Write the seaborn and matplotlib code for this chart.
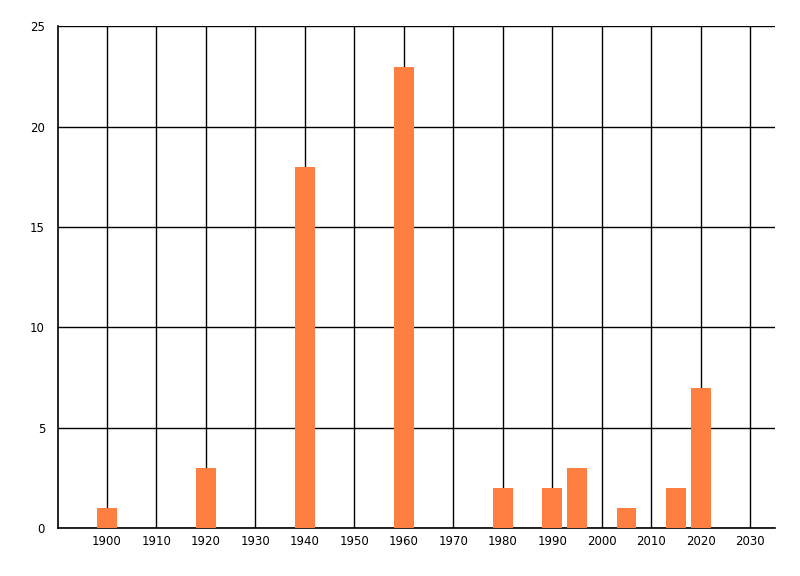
import matplotlib
matplotlib.use("Agg")
import matplotlib.pyplot as plt
import seaborn as sns

# data
years = [1900, 1920, 1940, 1960, 1980, 1990, 1995, 2005, 2015, 2020]
counts = [1, 3, 18, 23, 2, 2, 3, 1, 2, 7]
x_ticks = list(range(1900, 2031, 10))
y_ticks = [0, 5, 10, 15, 20, 25]

bar_color = "#FF7F40"

sns.set_style("white")
plt.rcParams['font.family'] = ['DejaVu Sans']
plt.rcParams['xtick.color'] = 'black'
plt.rcParams['ytick.color'] = 'black'

fig = plt.figure(figsize=(8, 5.76), dpi=100)
ax = fig.add_axes([0.0719, 0.0833, 0.8969, 0.8707])

sns.barplot(x=years, y=counts, native_scale=True, color=bar_color,
            saturation=1, width=0.8, linewidth=0, edgecolor="none",
            ax=ax, zorder=3)

ax.set_xlim(1890, 2035)
ax.set_ylim(0, 25)
ax.set_xticks(x_ticks)
ax.set_xticklabels([str(t) for t in x_ticks])
ax.set_yticks(y_ticks)

ax.grid(True, color="black", linewidth=1)
ax.set_axisbelow(True)
for s in ["top", "right"]:
    ax.spines[s].set_visible(False)
for s in ["left", "bottom"]:
    ax.spines[s].set_color("black")
    ax.spines[s].set_linewidth(1.2)

ax.tick_params(axis="y", length=8, width=1, color="black", labelcolor="black",
               labelsize=8.5, pad=1)
ax.tick_params(axis="x", length=0, labelcolor="black", labelsize=8.5, pad=5)
ax.set_xlabel("")
ax.set_ylabel("")

fig.savefig("out.png", dpi=100)
